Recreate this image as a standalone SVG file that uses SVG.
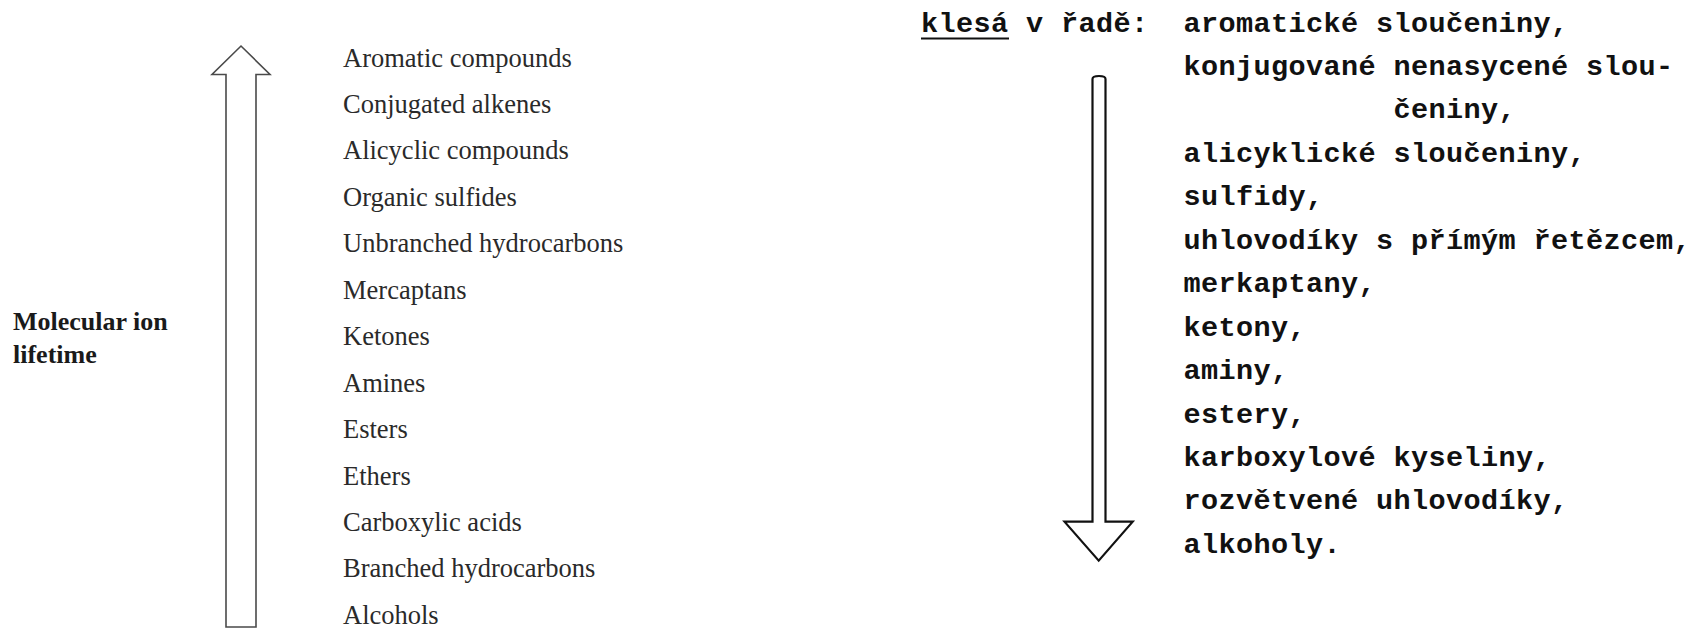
<svg xmlns="http://www.w3.org/2000/svg" width="1702" height="629" viewBox="0 0 1702 629">
<style>
.en{font-family:"Liberation Serif","Times New Roman",serif;font-size:26.5px;fill:#2a2a2a}
.enb{font-family:"Liberation Serif","Times New Roman",serif;font-size:26px;font-weight:bold;fill:#1a1a1a}
.cz{font-family:"Liberation Mono","Courier New",monospace;font-size:28.5px;font-weight:bold;letter-spacing:0.4px;fill:#111}
.arrL{fill:none;stroke:#4a4a4a;stroke-width:1.6;stroke-linejoin:miter}
.arrR{fill:none;stroke:#111;stroke-width:2.2;stroke-linejoin:miter}
</style>
<rect width="1702" height="629" fill="#fff"/>
<g id="connectors">
<path id="arrow-up" class="arrL" d="M226 627 L226 74.5 L212 74.5 L241 46 L270 74.5 L256 74.5 L256 627 Z"/>
<path id="arrow-down" class="arrR" d="M1092.5 521.7 L1092.5 79 Q1092.5 76 1099 76 Q1105.5 76 1105.5 79 L1105.5 521.7 L1132.7 521.7 L1098.7 560.7 L1064.5 521.7 Z"/>
</g>
<g id="axis-label">
<text class="enb" x="13" y="330">Molecular ion</text>
<text class="enb" x="13" y="362.5">lifetime</text>
</g>
<g id="english-list">
<text class="en" x="343" y="66.5">Aromatic compounds</text>
<text class="en" x="343" y="112.95">Conjugated alkenes</text>
<text class="en" x="343" y="159.4">Alicyclic compounds</text>
<text class="en" x="343" y="205.85">Organic sulfides</text>
<text class="en" x="343" y="252.3">Unbranched hydrocarbons</text>
<text class="en" x="343" y="298.75">Mercaptans</text>
<text class="en" x="343" y="345.2">Ketones</text>
<text class="en" x="343" y="391.65">Amines</text>
<text class="en" x="343" y="438.1">Esters</text>
<text class="en" x="343" y="484.55">Ethers</text>
<text class="en" x="343" y="531">Carboxylic acids</text>
<text class="en" x="343" y="577.45">Branched hydrocarbons</text>
<text class="en" x="343" y="623.9">Alcohols</text>
</g>
<g id="czech-heading">
<text class="cz" x="921" y="31.5">klesá v řadě:</text>
<line x1="921" y1="38.5" x2="1009" y2="38.5" stroke="#111" stroke-width="2"/>
</g>
<g id="czech-list">
<text class="cz" x="1183.5" y="31.5">aromatické sloučeniny,</text>
<text class="cz" x="1183.5" y="74.95">konjugované nenasycené slou-</text>
<text class="cz" x="1393.5" y="118.4">čeniny,</text>
<text class="cz" x="1183.5" y="161.85">alicyklické sloučeniny,</text>
<text class="cz" x="1183.5" y="205.3">sulfidy,</text>
<text class="cz" x="1183.5" y="248.75">uhlovodíky s přímým řetězcem,</text>
<text class="cz" x="1183.5" y="292.2">merkaptany,</text>
<text class="cz" x="1183.5" y="335.65">ketony,</text>
<text class="cz" x="1183.5" y="379.1">aminy,</text>
<text class="cz" x="1183.5" y="422.55">estery,</text>
<text class="cz" x="1183.5" y="466">karboxylové kyseliny,</text>
<text class="cz" x="1183.5" y="509.45">rozvětvené uhlovodíky,</text>
<text class="cz" x="1183.5" y="552.9">alkoholy.</text>
</g>
</svg>
